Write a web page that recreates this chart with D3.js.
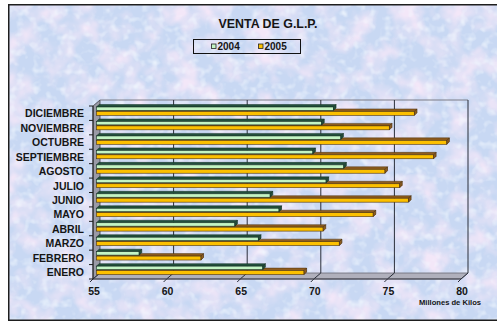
<!DOCTYPE html>
<html>
<head>
<meta charset="utf-8">
<script src="https://cdn.jsdelivr.net/npm/d3@7/dist/d3.min.js"></script>
<style>
  html, body { margin: 0; padding: 0; background: #ffffff; }
  svg { display: block; }
  text { font-family: "Liberation Sans", Arial, sans-serif; font-weight: bold; fill: #151515; }
</style>
</head>
<body>
<svg id="chart" width="497" height="323"></svg>
<script>
// Monthly LPG sales, millions of kilos
const months = ["ENERO", "FEBRERO", "MARZO", "ABRIL", "MAYO", "JUNIO",
                "JULIO", "AGOSTO", "SEPTIEMBRE", "OCTUBRE", "NOVIEMBRE", "DICIEMBRE"];
const series = ["2004", "2005"];
const sales2004 = [66.3, 57.9, 66.0, 64.4, 67.4, 66.8, 70.6, 71.8, 69.7, 71.6, 70.3, 71.1];
const sales2005 = [69.1, 62.1, 71.5, 70.4, 73.8, 76.2, 75.6, 74.6, 77.9, 78.8, 74.9, 76.6];
const xTicks = [55, 60, 65, 70, 75, 80];

const svg = d3.select("#chart");
const defs = svg.append("defs");

// marbled backdrop
const f = defs.append("filter").attr("id", "marble")
  .attr("x", 0).attr("y", 0).attr("width", "100%").attr("height", "100%");
f.append("feTurbulence").attr("type", "fractalNoise").attr("baseFrequency", 0.04)
  .attr("numOctaves", 3).attr("seed", 7).attr("result", "n");
f.append("feColorMatrix").attr("in", "n").attr("type", "matrix")
  .attr("values", "0 0 0 0 0.90  0 0 0 0 0.80  0 0 0 0 0.94  2.5 0 0 0 -1.0");
const f2 = defs.append("filter").attr("id", "speck")
  .attr("x", 0).attr("y", 0).attr("width", "100%").attr("height", "100%");
f2.append("feTurbulence").attr("type", "fractalNoise").attr("baseFrequency", 0.12)
  .attr("numOctaves", 2).attr("seed", 3).attr("result", "n");
f2.append("feColorMatrix").attr("in", "n").attr("type", "matrix")
  .attr("values", "0 0 0 0 0.90  0 0 0 0 0.95  0 0 0 0 1  0 1.8 0 0 -0.9");

svg.append("rect").attr("x", 0).attr("y", 0).attr("width", 497).attr("height", 323).attr("fill", "#ffffff");
svg.append("rect").attr("x", 8).attr("y", 4).attr("width", 489).attr("height", 317).attr("fill", "#c8d8f3");
svg.append("rect").attr("x", 8).attr("y", 4).attr("width", 489).attr("height", 317).attr("filter", "url(#marble)");
svg.append("rect").attr("x", 8).attr("y", 4).attr("width", 489).attr("height", 317).attr("filter", "url(#speck)");
svg.append("rect").attr("x", 8.75).attr("y", 4.75).attr("width", 489).attr("height", 315.5)
  .attr("fill", "none").attr("stroke", "#1e1e1e").attr("stroke-width", 1.5);

// 3D geometry: back wall scale, depth offset towards the viewer
const xBack = d3.scaleLinear().domain([55, 80]).range([100, 468]);
const DX = 7, DY = 6;
const wallTop = 100, floorBack = 273;
const xFront = v => xBack(v) - DX;
const xMid = v => xBack(v) - DX / 2;

const yBand = d3.scaleBand().domain(months.slice().reverse())
  .range([104.5, 274.5]).paddingInner(0.25).paddingOuter(0);
const ySub = d3.scaleBand().domain(series).range([0, yBand.bandwidth()]);

// left wall
svg.append("polygon")
  .attr("points", [[xFront(55), wallTop + DY], [xBack(55), wallTop], [xBack(55), floorBack], [xFront(55), floorBack + DY]].join(" "))
  .attr("fill", "#9a9aa6").attr("stroke", "#404048").attr("stroke-width", 0.8);
// floor
svg.append("polygon")
  .attr("points", [[xFront(55), floorBack + DY], [xBack(55), floorBack], [xBack(80), floorBack], [xFront(80), floorBack + DY]].join(" "))
  .attr("fill", "#b0b0bc").attr("stroke", "#6a6a74").attr("stroke-width", 0.8);

// back wall top edge
svg.append("line").attr("x1", xBack(55)).attr("x2", xBack(80)).attr("y1", wallTop).attr("y2", wallTop)
  .attr("stroke", "#7c7c86").attr("stroke-width", 1);

// gridlines: back wall verticals and floor diagonals
const grid = svg.append("g");
xTicks.forEach(v => {
  if (v > 55) {
    grid.append("line").attr("x1", xBack(v)).attr("x2", xBack(v)).attr("y1", wallTop).attr("y2", floorBack)
      .attr("stroke", "#2a2e3a").attr("stroke-width", 1);
  }
  grid.append("line").attr("x1", xBack(v)).attr("y1", floorBack).attr("x2", xFront(v)).attr("y2", floorBack + DY)
    .attr("stroke", "#2a2e3a").attr("stroke-width", 1);
  grid.append("line").attr("x1", xFront(v)).attr("y1", floorBack + DY).attr("x2", xFront(v) - 3).attr("y2", floorBack + DY + 3)
    .attr("stroke", "#2a2e3a").attr("stroke-width", 1);
});
svg.append("line").attr("x1", xFront(55)).attr("x2", xFront(80)).attr("y1", floorBack + DY).attr("y2", floorBack + DY)
  .attr("stroke", "#3a3a44").attr("stroke-width", 1);

// left axis line and category ticks
svg.append("line").attr("x1", xFront(55)).attr("x2", xFront(55)).attr("y1", wallTop + DY).attr("y2", floorBack + DY)
  .attr("stroke", "#1e1e1e").attr("stroke-width", 1);
const yFrontTick = d3.scaleLinear().domain([0, 12]).range([wallTop + DY, floorBack + DY]);
d3.range(13).forEach(k => {
  svg.append("line").attr("x1", xFront(55) - 4).attr("x2", xFront(55))
    .attr("y1", yFrontTick(k)).attr("y2", yFrontTick(k)).attr("stroke", "#1e1e1e").attr("stroke-width", 1);
});

// bars (2005 drawn first so the 2004 bar front sits over its top face)
const styles = {
  "2004": { top: "#22503c", front: "#c4f4c4", stroke: "#143024" },
  "2005": { top: "#8e5c1e", front: "#fcc000", stroke: "#4a300e" }
};
const barData = [];
series.slice().reverse().forEach(s => {
  months.forEach((m, i) => {
    barData.push({ month: m, s: s, v: s === "2004" ? sales2004[i] : sales2005[i] });
  });
});
const bars = svg.append("g").selectAll("g").data(barData).join("g");
const TD = 2.5; // bar depth
bars.each(function (d) {
  const g = d3.select(this);
  const t = yBand(d.month) + ySub(d.s) - (d.s === "2005" ? 1 : 0);
  const h = ySub.bandwidth() + (d.s === "2005" ? 1 : 0.5);
  const x0 = xMid(55), x1 = xMid(d.v);
  const st = styles[d.s];
  g.append("polygon")
    .attr("points", [[x0, t + TD], [x1, t + TD], [x1 + TD, t], [x0 + TD, t]].join(" "))
    .attr("fill", st.top).attr("stroke", st.stroke).attr("stroke-width", 0.5);
  g.append("rect").attr("x", x0).attr("y", t + TD).attr("width", x1 - x0).attr("height", h - TD)
    .attr("fill", st.front).attr("stroke", st.stroke).attr("stroke-width", 0.6);
  g.append("polygon")
    .attr("points", [[x1, t + TD], [x1 + TD, t], [x1 + TD, t + h - TD], [x1, t + h]].join(" "))
    .attr("fill", st.top).attr("stroke", st.stroke).attr("stroke-width", 0.7);
});

// category labels
svg.append("g").selectAll("text").data(months).join("text")
  .attr("x", 84)
  .attr("y", d => yBand(d) + 8.7)
  .attr("text-anchor", "end").attr("dominant-baseline", "central")
  .style("font-size", "10.5px")
  .text(d => d);

// value axis labels
svg.append("g").selectAll("text").data(xTicks).join("text")
  .attr("x", d => xFront(d) + 1)
  .attr("y", 291)
  .attr("text-anchor", "middle").attr("dominant-baseline", "central")
  .style("font-size", "10.5px")
  .text(d => d);
svg.append("text").attr("x", 450).attr("y", 302.5)
  .attr("text-anchor", "middle").attr("dominant-baseline", "central")
  .style("font-size", "7.6px").text("Millones de Kilos");

// title
svg.append("text").attr("x", 268).attr("y", 24)
  .attr("text-anchor", "middle").attr("dominant-baseline", "central")
  .style("font-size", "12.4px").text("VENTA DE G.L.P.");

// legend
const lg = svg.append("g");
lg.append("rect").attr("x", 193.5).attr("y", 39.5).attr("width", 107).attr("height", 14)
  .attr("fill", "none").attr("stroke", "#111").attr("stroke-width", 1);
const legendX = { "2004": 211, "2005": 258 };
series.forEach(s => {
  lg.append("rect").attr("x", legendX[s] + 0.5).attr("y", 44).attr("width", 4.5).attr("height", 4.5)
    .attr("fill", styles[s].front).attr("stroke", "#222").attr("stroke-width", 0.8);
  lg.append("text").attr("x", legendX[s] + 6.5).attr("y", 46.5)
    .attr("dominant-baseline", "central").style("font-size", "10px").text(s);
});
</script>
</body>
</html>
